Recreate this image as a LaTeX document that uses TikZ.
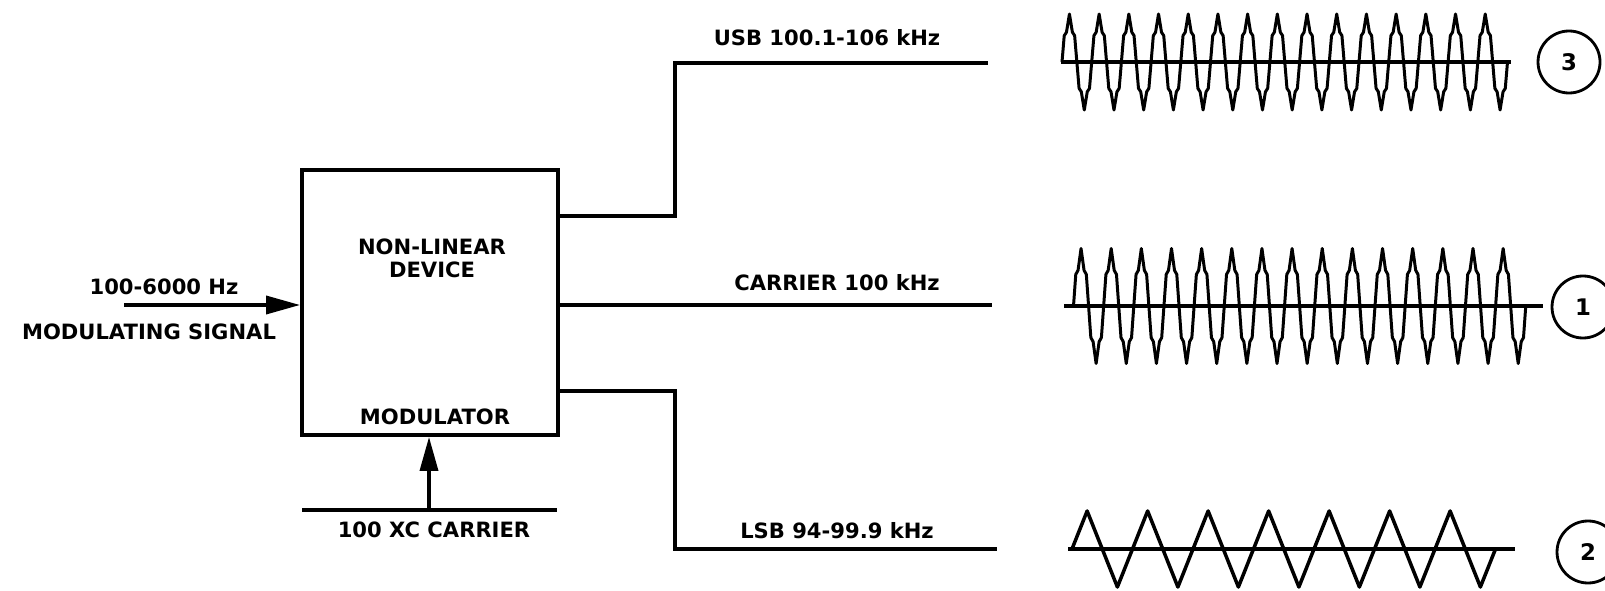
\documentclass[tikz,border=0pt]{standalone}
\usepackage{fontspec}
\setmainfont{DejaVu Sans}
\usetikzlibrary{arrows.meta}

\begin{document}
\begin{tikzpicture}[
  lbl/.style={font=\fontsize{12}{13}\selectfont\bfseries, inner sep=0},
  wire/.style={line width=2pt},
  sig/.style={line width=2pt, -{Triangle[length=0.68cm, width=0.36cm]}},
  wave/.style={line width=1.7pt, line join=round},
  tag/.style={circle, draw, line width=1.6pt, minimum size=1.24cm, inner sep=0, font=\fontsize{13}{15}\selectfont\bfseries}
]
  \useasboundingbox (0,0) rectangle (32.1,11.8);

  \node[draw, line width=2.2pt, minimum width=5.12cm, minimum height=5.3cm] (mod) at (8.6,5.75) {};
  \node[lbl, align=center] (nld) at (8.64,6.63) {NON-LINEAR\\DEVICE};
  \node[lbl] (modlbl) at (8.7,3.46) {MODULATOR};

  \coordinate (in) at (2.48,5.7);
  \draw[sig] (in) -- (in -| mod.west);
  \node[lbl] (inf) at (3.28,6.06) {100-6000 Hz};
  \node[lbl] (insig) at (2.98,5.16) {MODULATING SIGNAL};

  \coordinate (cl) at (6.04,1.6);
  \coordinate (cr) at (11.14,1.6);
  \coordinate (cin) at (8.58,1.6);
  \draw[wire] (cl) -- (cr);
  \draw[sig] (cin) -- (cin |- mod.south);
  \node[lbl] (carin) at (8.68,1.2) {100 XC CARRIER};

  \coordinate (ub) at (13.5,7.48);
  \coordinate (usb) at (19.76,10.54);
  \coordinate (car) at (19.84,5.7);
  \coordinate (lb) at (13.5,3.98);
  \coordinate (lsb) at (19.94,0.82);
  \draw[wire] (ub -| mod.east) -- (ub) |- (usb);
  \draw[wire] (car -| mod.east) -- (car);
  \draw[wire] (lb -| mod.east) -- (lb) |- (lsb);
  \node[lbl] (usblbl) at (16.54,11.04) {USB 100.1-106 kHz};
  \node[lbl] (carlbl) at (16.74,6.14) {CARRIER 100 kHz};
  \node[lbl] (lsblbl) at (16.74,1.18) {LSB 94-99.9 kHz};

  \draw[wire] (21.22,10.56) -- (30.22,10.56);
  \begin{scope}[shift={(21.24,10.56)}, x=0.594cm, y=0.96cm]
    \draw[wave] (0,0) \foreach \k in {1,...,15} { -- ++(0.075,0.55) -- ++(0.075,0.07) -- ++(0.1,0.38) -- ++(0.1,-0.38) -- ++(0.075,-0.07) -- ++(0.075,-0.55) -- ++(0.075,-0.55) -- ++(0.075,-0.07) -- ++(0.1,-0.38) -- ++(0.1,0.38) -- ++(0.075,0.07) -- ++(0.075,0.55) };
  \end{scope}

  \draw[wire] (21.28,5.68) -- (30.86,5.68);
  \begin{scope}[shift={(21.47,5.68)}, x=0.603cm, y=1.15cm]
    \draw[wave] (0,0) \foreach \k in {1,...,15} { -- ++(0.075,0.55) -- ++(0.075,0.07) -- ++(0.1,0.38) -- ++(0.1,-0.38) -- ++(0.075,-0.07) -- ++(0.075,-0.55) -- ++(0.075,-0.55) -- ++(0.075,-0.07) -- ++(0.1,-0.38) -- ++(0.1,0.38) -- ++(0.075,0.07) -- ++(0.075,0.55) };
  \end{scope}

  \draw[wire] (21.36,0.82) -- (30.3,0.82);
  \begin{scope}[shift={(21.44,0.82)}, x=1.21cm, y=0.76cm]
    \draw[wave, line width=2pt] (0,0) \foreach \k in {1,...,7} { -- ++(0.25,1) -- ++(0.5,-2) -- ++(0.25,1) };
  \end{scope}

  \node[tag] (t3) at (31.38,10.56) {3};
  \node[tag] (t1) at (31.66,5.66) {1};
  \node[tag] (t2) at (31.76,0.76) {2};
\end{tikzpicture}
\end{document}
